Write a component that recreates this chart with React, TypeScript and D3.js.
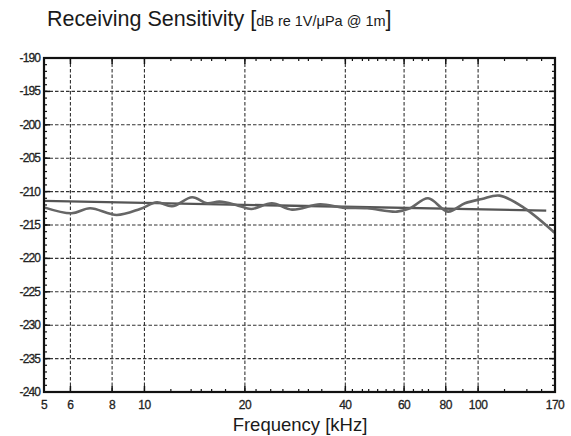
import React from "react";
import * as d3 from "d3";

const freqTicks = [5, 6, 8, 10, 20, 40, 60, 80, 100, 170];
const gridFreqs = [6, 8, 10, 20, 40, 60, 80, 100];
const minorFreqs = [12, 13.8, 14.8, 15.9, 17.5, 21.6, 23.9, 26, 29, 31, 34, 42, 45, 47, 50, 53, 56, 64, 68, 71, 90, 120, 140, 155];
const yTicks = [-190, -195, -200, -205, -210, -215, -220, -225, -230, -235, -240];

const curveFreq = [5.03, 6.05, 6.87, 8.26, 9.7, 10.9, 12.1, 13.9, 15.4, 16.8, 19.1, 20.9, 24.1, 27.7, 33.6, 39.3, 46.5, 57.1, 62.5, 70.8, 81.2, 91.3, 102.6, 116, 138, 170];
const curveDb = [-212.4, -213.25, -212.5, -213.5, -212.6, -211.6, -212.2, -210.85, -211.75, -211.5, -212.1, -212.6, -211.75, -212.7, -211.9, -212.4, -212.5, -213.0, -212.5, -211.0, -213.0, -211.75, -211.1, -210.6, -212.5, -216.2];

const trendFreq = [5, 160];
const trendDb = [-211.4, -212.85];

const L = 44, R = 555, T = 58, B = 392;

export default function App() {
  const x = d3.scaleLog().domain([5, 170]).range([L, R]);
  const y = d3.scaleLinear().domain([-240, -190]).range([B, T]);
  const line = d3.line<[number, number]>().x(d => x(d[0])).y(d => y(d[1])).curve(d3.curveCatmullRom.alpha(0.5));
  const curvePts: [number, number][] = curveFreq.map((f, i) => [f, curveDb[i]]);
  const trendPts: [number, number][] = trendFreq.map((f, i) => [f, trendDb[i]]);
  const straight = d3.line<[number, number]>().x(d => x(d[0])).y(d => y(d[1]));
  const minorDb = d3.range(-240, -189, 1);
  const font = "Liberation Sans, Arial, Helvetica, sans-serif";
  return (
    <svg width={571} height={436} style={{ position: "absolute", left: 0, top: 0, background: "#fff" }}>
      <text x={47} y={26} fontFamily={font} fontSize={21.5} fill="#1a1a1a">
        Receiving Sensitivity <tspan fontSize={21.5}>[</tspan><tspan fontSize={14.5}>dB re 1V/μPa @ 1m</tspan><tspan fontSize={21.5}>]</tspan>
      </text>
      {yTicks.filter(v => v !== -190 && v !== -240).map(v => (
        <line key={"gy" + v} x1={L} x2={R} y1={y(v)} y2={y(v)} stroke="#333" strokeWidth={1.1} strokeDasharray="3.5,2" />
      ))}
      {gridFreqs.map(f => (
        <line key={"gx" + f} x1={x(f)} x2={x(f)} y1={T} y2={B} stroke="#333" strokeWidth={1.1} strokeDasharray="3.5,2" />
      ))}
      {minorDb.map(v => (
        <g key={"my" + v}>
          <line x1={L} x2={L + 3} y1={y(v)} y2={y(v)} stroke="#111" strokeWidth={1.2} />
          <line x1={R} x2={R - 3} y1={y(v)} y2={y(v)} stroke="#111" strokeWidth={1.2} />
        </g>
      ))}
      {yTicks.map(v => (
        <g key={"ty" + v}>
          <line x1={L} x2={L + 6} y1={y(v)} y2={y(v)} stroke="#111" strokeWidth={1.5} />
          <line x1={R} x2={R - 6} y1={y(v)} y2={y(v)} stroke="#111" strokeWidth={1.5} />
        </g>
      ))}
      {minorFreqs.map(f => (
        <g key={"mx" + f}>
          <line x1={x(f)} x2={x(f)} y1={B} y2={B - 3} stroke="#111" strokeWidth={1.2} />
          <line x1={x(f)} x2={x(f)} y1={T} y2={T + 3} stroke="#111" strokeWidth={1.2} />
        </g>
      ))}
      {gridFreqs.map(f => (
        <g key={"tx" + f}>
          <line x1={x(f)} x2={x(f)} y1={B} y2={B - 6} stroke="#111" strokeWidth={1.5} />
          <line x1={x(f)} x2={x(f)} y1={T} y2={T + 6} stroke="#111" strokeWidth={1.5} />
        </g>
      ))}
      <path d={straight(trendPts) || ""} fill="none" stroke="#555" strokeWidth={2.3} />
      <path d={line(curvePts) || ""} fill="none" stroke="#666" strokeWidth={2.6} />
      <rect x={L} y={T} width={R - L} height={B - T} fill="none" stroke="#111" strokeWidth={2.2} />
      {yTicks.map(v => (
        <text key={"ly" + v} x={L - 4} y={y(v) + 4} textAnchor="end" fontFamily={font} fontSize={12} fill="#222" stroke="#222" strokeWidth={0.3} letterSpacing={-0.9}>{v}</text>
      ))}
      {freqTicks.map(f => (
        <text key={"lx" + f} x={x(f)} y={409} textAnchor="middle" fontFamily={font} fontSize={12} fill="#222" stroke="#222" strokeWidth={0.3} letterSpacing={-0.5}>{f}</text>
      ))}
      <text x={300} y={431} textAnchor="middle" fontFamily={font} fontSize={18.5} fill="#1a1a1a">Frequency [kHz]</text>
    </svg>
  );
}
